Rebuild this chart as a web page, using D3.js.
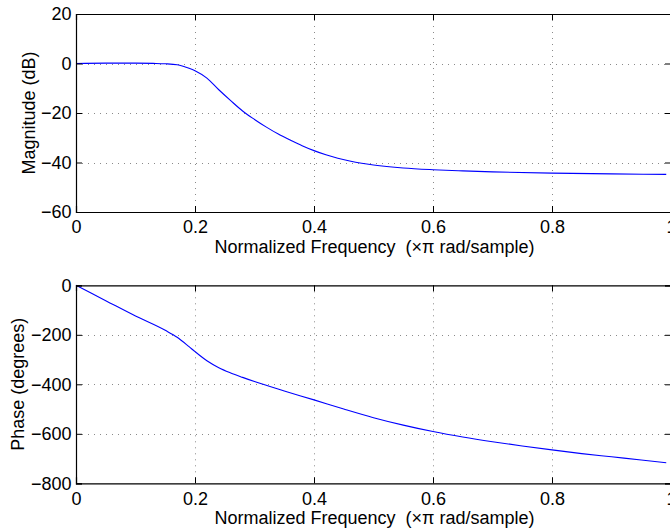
<!DOCTYPE html>
<html>
<head>
<meta charset="utf-8">
<script src="https://cdn.jsdelivr.net/npm/d3@7"></script>
<style>
  html, body { margin: 0; padding: 0; background: #fff; }
  svg { display: block; }
  text { font-family: "Liberation Sans", Arial, Helvetica, sans-serif; fill: #000; white-space: pre; }
</style>
</head>
<body>
<svg id="chart" width="670" height="532"></svg>
<script>
// ---- data ----
const magFreq = [0, 0.05, 0.1, 0.13, 0.15, 0.17, 0.18, 0.19, 0.2, 0.22, 0.24, 0.26, 0.28, 0.3, 0.32, 0.34, 0.36, 0.38, 0.4, 0.42, 0.44, 0.46, 0.48, 0.5, 0.55, 0.6, 0.65, 0.7, 0.8, 0.9, 0.992];
const magDb   = [0, 0.15, 0.15, 0.05, -0.1, -0.5, -1.1, -1.9, -2.9, -5.9, -10.6, -15.0, -19.2, -22.6, -25.7, -28.5, -30.9, -33.2, -35.2, -36.9, -38.3, -39.4, -40.3, -41.0, -42.2, -42.9, -43.4, -43.8, -44.3, -44.6, -44.8];

const phaseFreq = [0, 0.05, 0.1, 0.15, 0.17, 0.19, 0.2, 0.22, 0.24, 0.26, 0.28, 0.3, 0.35, 0.4, 0.45, 0.5, 0.55, 0.6, 0.65, 0.7, 0.75, 0.8, 0.85, 0.9, 0.95, 0.992];
const phaseDeg  = [0, -62, -124, -182, -210, -248, -268, -305, -333, -354, -372, -389, -427, -463, -500, -535, -565, -591, -613, -632, -649, -665, -680, -693, -706, -717];

const xTicks = [0, 0.2, 0.4, 0.6, 0.8, 1];
const magTicks = [-60, -40, -20, 0, 20];
const phaseTicks = [-800, -600, -400, -200, 0];

const xLabel = "Normalized Frequency  (\u00d7\u03c0 rad/sample)";
const magLabel = "Magnitude (dB)";
const phaseLabel = "Phase (degrees)";

// ---- layout ----
const svg = d3.select("#chart");
const left = 76, right = 671;
const panels = [
  { top: 14, bottom: 212, xs: magFreq, ys: magDb, domain: [-60, 20], ticks: magTicks, label: magLabel, labelX: 35 },
  { top: 285.3, bottom: 483.3, xs: phaseFreq, ys: phaseDeg, domain: [-800, 0], ticks: phaseTicks, label: phaseLabel, labelX: 23.5 }
];

const fmt = v => (v < 0 ? "\u2212" + Math.abs(v) : String(v));
const fontSize = "18px";
const tickLen = 6;

panels.forEach((p, i) => {
  const x = d3.scaleLinear().domain([0, 1]).range([left, right]);
  const y = d3.scaleLinear().domain(p.domain).range([p.bottom, p.top]);
  const g = svg.append("g");

  // grid
  const innerX = xTicks.filter(t => t > 0 && t < 1);
  const innerY = p.ticks.filter(t => t > p.domain[0] && t < p.domain[1]);
  g.selectAll(".vg").data(innerX).join("line")
    .attr("x1", d => Math.round(x(d)) + 0.5).attr("x2", d => Math.round(x(d)) + 0.5)
    .attr("y1", p.top).attr("y2", p.bottom)
    .attr("stroke", "#8a8a8a").attr("stroke-width", 1).attr("stroke-dasharray", "1,5");
  g.selectAll(".hg").data(innerY).join("line")
    .attr("y1", d => Math.round(y(d)) + 0.5).attr("y2", d => Math.round(y(d)) + 0.5)
    .attr("x1", left).attr("x2", right)
    .attr("stroke", "#8a8a8a").attr("stroke-width", 1).attr("stroke-dasharray", "1,5");

  // curve
  const line = d3.line().x((d, k) => x(p.xs[k])).y(d => y(d)).curve(d3.curveMonotoneX);
  g.append("path").datum(p.ys).attr("d", line)
    .attr("fill", "none").attr("stroke", "#0000ff").attr("stroke-width", 1.1);

  // axes (box with inward ticks)
  const axB = d3.axisBottom(x).tickValues(xTicks).tickSize(-tickLen).tickPadding(8.5).tickFormat(d3.format("~g"));
  const axT = d3.axisTop(x).tickValues(xTicks).tickSize(-tickLen).tickFormat("");
  const axL = d3.axisLeft(y).tickValues(p.ticks).tickSize(-tickLen).tickPadding(4.5).tickFormat(fmt);
  const axR = d3.axisRight(y).tickValues(p.ticks).tickSize(-tickLen).tickFormat("");

  [[axB, `translate(0,${p.bottom})`], [axT, `translate(0,${p.top})`],
   [axL, `translate(${left},0)`], [axR, `translate(${right},0)`]].forEach(([ax, tr]) => {
    const a = g.append("g").attr("transform", tr).call(ax);
    a.select(".domain").attr("stroke", "#000").attr("stroke-width", 1.2);
    a.selectAll(".tick line").attr("stroke", "#000").attr("stroke-width", 1);
    a.selectAll("text").style("font-size", fontSize).attr("font-family", null).attr("fill", "#000");
  });

  // x label
  g.append("text").attr("x", (left + right) / 2 + 1).attr("y", p.bottom + 40.5)
    .attr("text-anchor", "middle").style("font-size", fontSize).text(xLabel);
  // y label
  g.append("text").attr("transform", `translate(${p.labelX},${(p.top + p.bottom) / 2}) rotate(-90)`)
    .attr("text-anchor", "middle").style("font-size", fontSize).text(p.label);
});
</script>
</body>
</html>
